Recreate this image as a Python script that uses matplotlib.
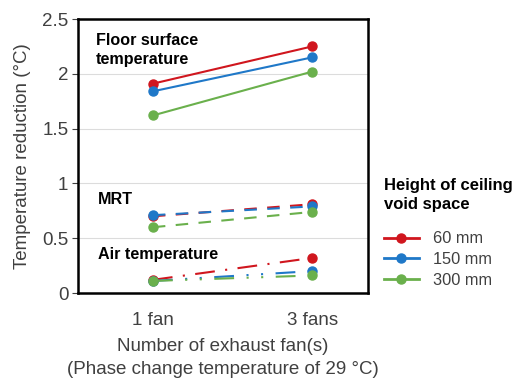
import matplotlib.pyplot as plt
from matplotlib.lines import Line2D

plt.rcParams['font.family'] = ['Liberation Sans', 'DejaVu Sans']

fans = ["1 fan", "3 fans"]
heights = ["60 mm", "150 mm", "300 mm"]
colors = ["#d0161e", "#1f78c8", "#6ab04c"]

floor_surface = [[1.91, 2.25], [1.84, 2.15], [1.62, 2.02]]
mrt = [[0.70, 0.81], [0.71, 0.79], [0.60, 0.74]]
air_temp = [[0.12, 0.32], [0.11, 0.20], [0.11, 0.16]]

fig = plt.figure(figsize=(5.12, 3.85), dpi=100)
ax = fig.add_axes([78 / 512, 1 - 293 / 385, 290 / 512, 274 / 385])

x = [0, 1]
mrt_ls = (0, (6, 5))
air_ls = [(0, (9.5, 5, 1, 5)), (0, (9.5, 6, 1, 6, 1, 6)), (0, (9.5, 6, 1, 6, 1, 6))]
for i, c in enumerate(colors):
    ax.plot(x, floor_surface[i], color=c, lw=1.5, marker="o", ms=6.5, zorder=3)
    ax.plot(x, mrt[i], color=c, lw=1.5, ls=mrt_ls, marker="o", ms=6.5, zorder=3)
    ax.plot(x, air_temp[i], color=c, lw=1.5, ls=air_ls[i], marker="o", ms=6.5, zorder=3)

ax.set_xlim(-0.47, 1.35)
ax.set_ylim(0, 2.5)
ax.set_xticks(x)
ax.set_xticklabels(fans)
ax.set_yticks([0, 0.5, 1, 1.5, 2, 2.5])
ax.set_yticklabels(["0", "0.5", "1", "1.5", "2", "2.5"])
ax.tick_params(axis="x", length=0, labelsize=13.5, labelcolor="#404040", pad=14)
ax.tick_params(axis="y", length=4, labelsize=13.5, labelcolor="#404040", width=0.8,
               color="#404040", pad=3)
ax.grid(True, axis="y", color="#dcdcdc", lw=0.8)
ax.set_axisbelow(True)
for s in ax.spines.values():
    s.set_linewidth(1.8)
    s.set_color("black")

ax.set_ylabel("Temperature reduction (°C)", fontsize=13.5, color="#404040", labelpad=8)
ax.set_xlabel("Number of exhaust fan(s)\n(Phase change temperature of 29 °C)",
              fontsize=13.5, color="#404040", labelpad=6, linespacing=1.5)

ax.text(-0.36, 2.22, "Floor surface\ntemperature", fontsize=11.6, fontweight="bold",
        va="center", ha="left", linespacing=1.35)
ax.text(-0.345, 0.85, "MRT", fontsize=11.6, fontweight="bold", va="center", ha="left")
ax.text(-0.345, 0.35, "Air temperature", fontsize=11.6, fontweight="bold",
        va="center", ha="left")

handles = [Line2D([0], [0], color=c, lw=2, marker="o", ms=6.5) for c in colors]
leg = fig.legend(handles, heights, title="Height of ceiling\nvoid space",
                 loc="upper left", bbox_to_anchor=(381 / 512, 1 - 175 / 385),
                 frameon=False, fontsize=11.8, handlelength=2.1, labelspacing=0.35,
                 handletextpad=0.9, borderpad=0.2, borderaxespad=0)
leg.get_title().set_fontweight("bold")
leg.get_title().set_fontsize(12)
leg.get_title().set_linespacing(1.3)
leg._legend_box.align = "left"
leg._legend_box.sep = 14
for t in leg.get_texts():
    t.set_color("#404040")

fig.savefig("out.png", dpi=100)
